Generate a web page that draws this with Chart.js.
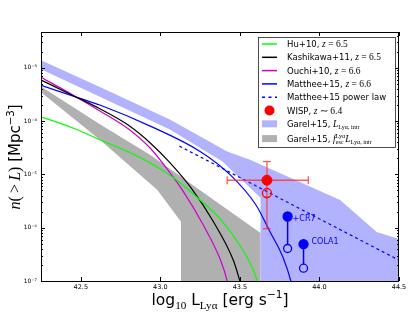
<!DOCTYPE html>
<html>
<head>
<meta charset="utf-8">
<script src="https://cdn.jsdelivr.net/npm/chart.js@4.4.0/dist/chart.umd.min.js"></script>
<style>
  html, body { margin: 0; padding: 0; background: #fff; }
</style>
</head>
<body>
<canvas id="lfChart" width="416" height="319"></canvas>
<script>
// axis ranges / ticks (x: log10 L, y: log10 n(>L))
const xRange = [42.25, 44.5];
const yRange = [-7, -2.33];
const xTicks = [42.5, 43.0, 43.5, 44.0, 44.5];
const yTickExps = [-7, -6, -5, -4, -3];

// cumulative LFs
const huX = [42.25, 42.45, 42.62, 42.80, 42.94, 43.10, 43.25, 43.38, 43.50, 43.57, 43.61, 43.63];
const huY = [-3.92, -4.13, -4.35, -4.58, -4.79, -5.10, -5.48, -5.85, -6.33, -6.70, -7.0, -7.2];
const kashX = [42.25, 42.45, 42.62, 42.80, 42.94, 43.06, 43.20, 43.33, 43.46, 43.50, 43.53];
const kashY = [-3.23, -3.52, -3.77, -4.08, -4.42, -4.78, -5.28, -5.87, -6.62, -7.0, -7.3];
const ouchiX = [42.25, 42.45, 42.62, 42.80, 42.94, 43.05, 43.14, 43.27, 43.38, 43.42, 43.44];
const ouchiY = [-3.18, -3.51, -3.81, -4.15, -4.52, -4.93, -5.30, -5.95, -6.62, -7.0, -7.3];
const mattX = [42.25, 42.51, 42.62, 42.94, 43.25, 43.44, 43.60, 43.69, 43.77, 43.82, 43.84];
const mattY = [-3.33, -3.59, -3.70, -4.10, -4.57, -5.01, -5.57, -6.08, -6.55, -7.0, -7.3];
const powX = [43.12, 44.5];
const powY = [-4.47, -6.61];

// Garel+15 bands
const garelUpX = [42.25, 42.62, 43.06, 43.42, 43.56, 44.13, 44.36, 44.5];
const garelUpY = [-2.86, -3.36, -3.97, -4.57, -4.72, -5.48, -6.08, -6.21];
const garelLoX = [42.25, 43.06, 43.39, 43.63, 43.63, 44.5];
const garelLoY = [-3.03, -4.16, -4.76, -5.44, -8, -8];
const escUpX = [42.25, 42.62, 42.94, 43.25, 43.63, 43.63];
const escUpY = [-3.35, -4.06, -4.64, -5.30, -6.10, -8];
const escLoX = [42.25, 42.62, 42.98, 43.13, 43.13, 43.63];
const escLoY = [-3.46, -4.35, -5.29, -5.89, -8, -8];

// WISP point with error bars
const wispX = 43.67, wispY = -5.11, wispOpenY = -5.35;
const wispXErr = [43.42, 43.93];
const wispYErr = [-4.76, -6.02];

// CR7 and COLA1 (filled -> open)
const srcNames = ['+CR7', 'COLA1'];
const srcX = [43.80, 43.90];
const srcY = [-5.79, -6.31];
const srcOpenY = [-6.39, -6.76];

const SANS = 'DejaVu Sans';
const SERIF = 'Liberation Serif';
const BAND_BLUE = 'rgba(0,0,255,0.3)';
const BAND_GRAY = '#b0b0b0';

const toPts = (xs, ys) => xs.map((x, i) => ({ x: x, y: Math.pow(10, ys[i]) }));

function curve(xs, ys, color, dash) {
  return {
    data: toPts(xs, ys), borderColor: color, borderWidth: 1.2,
    borderDash: dash || [], pointRadius: 0, fill: false,
    cubicInterpolationMode: 'monotone'
  };
}
function edge(xs, ys, fill, color) {
  return { data: toPts(xs, ys), borderWidth: 0, pointRadius: 0, fill: fill, backgroundColor: color, tension: 0 };
}
function capBar(pts, rot) {
  return {
    data: pts, borderColor: 'rgba(255,40,40,0.75)', borderWidth: 1.3,
    pointStyle: 'line', pointRotation: rot, pointRadius: 4,
    pointBorderColor: 'rgba(255,40,40,0.75)', pointBorderWidth: 1.3
  };
}

const datasets = [
  // WISP
  { data: [{ x: wispX, y: Math.pow(10, wispY) }], showLine: false, pointRadius: 5,
    pointBackgroundColor: '#ff0000', pointBorderColor: '#ff0000', pointBorderWidth: 1 },
  { data: [{ x: wispX, y: Math.pow(10, wispOpenY) }], showLine: false, pointRadius: 4.5,
    pointBackgroundColor: 'rgba(0,0,0,0)', pointBorderColor: '#ff0000', pointBorderWidth: 1.3 },
  capBar([{ x: wispXErr[0], y: Math.pow(10, wispY) }, { x: wispXErr[1], y: Math.pow(10, wispY) }], 90),
  capBar([{ x: wispX, y: Math.pow(10, wispYErr[0]) }, { x: wispX, y: Math.pow(10, wispYErr[1]) }], 0)
];
srcX.forEach((x, i) => {
  datasets.push({
    data: [{ x: x, y: Math.pow(10, srcY[i]) }, { x: x, y: Math.pow(10, srcOpenY[i]) }],
    borderColor: '#0000ff', borderWidth: 1.5, pointRadius: [4.5, 4],
    pointBackgroundColor: ['#0000ff', '#b3b3ff'], pointBorderColor: '#0000ff', pointBorderWidth: 1.3
  });
});
datasets.push(
  curve(huX, huY, '#00ff00'),
  curve(kashX, kashY, '#000000'),
  curve(ouchiX, ouchiY, '#cc00cc'),
  curve(mattX, mattY, '#0000ff'),
  curve(powX, powY, '#0000ff', [3, 3]),
  edge(garelUpX, garelUpY, false, BAND_BLUE),
  edge(garelLoX, garelLoY, '-1', BAND_BLUE),
  edge(escUpX, escUpY, false, BAND_GRAY),
  edge(escLoX, escLoY, '-1', BAND_GRAY)
);

// legend entries: handle + text runs (sans / math)
const legendItems = [
  { h: 'line', c: '#00ff00', runs: [['Hu+10, '], ['z', 'mi'], [' = 6.5', 'm']] },
  { h: 'line', c: '#000000', runs: [['Kashikawa+11, '], ['z', 'mi'], [' = 6.5', 'm']] },
  { h: 'line', c: '#cc00cc', runs: [['Ouchi+10, '], ['z', 'mi'], [' = 6.6', 'm']] },
  { h: 'line', c: '#0000ff', runs: [['Matthee+15, '], ['z', 'mi'], [' = 6.6', 'm']] },
  { h: 'dash', c: '#0000ff', runs: [['Matthee+15 power law']] },
  { h: 'dot', c: '#ff0000', runs: [['WISP, '], ['z', 'mi'], [' \u223C 6.4', 'm']] },
  { h: 'patch', c: BAND_BLUE, runs: [['Garel+15, '], ['L', 'mi'], ['Ly\u03B1, intr', 'sub']] },
  { h: 'patch', c: BAND_GRAY, runs: [['Garel+15, '], ['f', 'mi'], ['esc', 'subsup', 'Ly\u03B1'], ['L', 'mi'], ['Ly\u03B1, intr', 'sub']] }
];

const supDigits = { '-': '\u207B', '0': '\u2070', '1': '\u00B9', '2': '\u00B2', '3': '\u00B3', '4': '\u2074', '5': '\u2075', '6': '\u2076', '7': '\u2077', '8': '\u2078', '9': '\u2079' };
const sup = n => String(n).split('').map(ch => supDigits[ch]).join('');

function runFont(kind, size) {
  if (kind === 'mi') return 'italic ' + (size + 1) + 'px "' + SERIF + '"';
  if (kind === 'm') return (size + 1) + 'px "' + SERIF + '"';
  if (kind === 'sub' || kind === 'subsup' || kind === 'sup') return (size * 0.72) + 'px "' + SERIF + '"';
  if (kind === 'ssub' || kind === 'ssup') return (size * 0.68) + 'px "' + SANS + '"';
  return size + 'px "' + SANS + '"';
}

function drawRuns(ctx, runs, x, y, size, center) {
  let total = 0;
  const widths = runs.map(r => {
    ctx.font = runFont(r[1], size);
    let w = ctx.measureText(r[0]).width;
    if (r[2]) w = Math.max(w, ctx.measureText(r[2]).width);
    total += w;
    return w;
  });
  let cx = center ? x - total / 2 : x;
  runs.forEach((r, i) => {
    ctx.font = runFont(r[1], size);
    let dy = 0;
    if (r[1] === 'sub' || r[1] === 'subsup' || r[1] === 'ssub') dy = size * 0.25;
    if (r[1] === 'sup' || r[1] === 'ssup') dy = -size * 0.42;
    ctx.fillText(r[0], cx, y + dy);
    if (r[2]) ctx.fillText(r[2], cx, y - size * 0.45);
    cx += widths[i];
  });
}

const framePlugin = {
  id: 'frame',
  afterDatasetsDraw(chart) {
    const { ctx, chartArea: a, scales } = chart;
    const xs = scales.x, ys = scales.y;
    ctx.save();
    ctx.strokeStyle = '#000';
    ctx.lineWidth = 1;
    ctx.beginPath();
    xTicks.forEach(v => {
      const px = Math.round(xs.getPixelForValue(v)) + 0.5;
      ctx.moveTo(px, a.bottom); ctx.lineTo(px, a.bottom - 4);
      ctx.moveTo(px, a.top); ctx.lineTo(px, a.top + 4);
    });
    for (let e = yRange[0]; e < 0; e++) {
      for (let m = 1; m < 10; m++) {
        const v = m * Math.pow(10, e);
        if (v > ys.max) break;
        const py = Math.round(ys.getPixelForValue(v)) + 0.5;
        const len = m === 1 ? 4 : 2;
        ctx.moveTo(a.left, py); ctx.lineTo(a.left + len, py);
        ctx.moveTo(a.right, py); ctx.lineTo(a.right - len, py);
      }
    }
    ctx.stroke();
    ctx.strokeRect(Math.round(a.left) + 0.5, Math.round(a.top) + 0.5, Math.round(a.width) - 1, Math.round(a.height));
    // source labels
    ctx.fillStyle = '#0000ff';
    ctx.font = '8px "' + SANS + '"';
    ctx.textBaseline = 'middle';
    srcNames.forEach((name, i) => {
      const px = xs.getPixelForValue(srcX[i]);
      const py = ys.getPixelForValue(Math.pow(10, srcY[i]));
      ctx.fillText(name, px + (i === 0 ? 5 : 8), py + (i === 0 ? 2.5 : -2.5));
    });
    ctx.restore();
  },
  afterDraw(chart) {
    const { ctx } = chart;
    ctx.save();
    // legend
    const bx = 258, by = 37, bw = 137, bh = 110;
    ctx.fillStyle = '#fff';
    ctx.fillRect(bx, by, bw, bh);
    ctx.strokeStyle = '#222';
    ctx.lineWidth = 0.8;
    ctx.strokeRect(bx + 0.5, by + 0.5, bw, bh);
    ctx.textBaseline = 'alphabetic';
    legendItems.forEach((it, i) => {
      const cy = 44 + i * 13.3 + (i === 7 ? 1.5 : 0);
      const hx0 = 262, hx1 = 277;
      if (it.h === 'line' || it.h === 'dash') {
        ctx.strokeStyle = it.c;
        ctx.lineWidth = 1.5;
        ctx.setLineDash(it.h === 'dash' ? [3, 3.5] : []);
        ctx.beginPath(); ctx.moveTo(hx0, cy); ctx.lineTo(hx1, cy); ctx.stroke();
        ctx.setLineDash([]);
      } else if (it.h === 'dot') {
        ctx.fillStyle = it.c;
        ctx.beginPath(); ctx.arc((hx0 + hx1) / 2, cy, 5, 0, Math.PI * 2); ctx.fill();
      } else {
        ctx.fillStyle = it.c;
        ctx.fillRect(hx0, cy - 3.5, hx1 - hx0, 7);
      }
      ctx.fillStyle = '#000';
      drawRuns(ctx, it.runs, 287, cy + 3, 8.5, false);
    });
    // axis titles
    ctx.fillStyle = '#000';
    drawRuns(ctx, [['log'], ['10', 'sub'], [' L'], ['Ly\u03B1', 'sub'], [' [erg s'], ['\u22121', 'ssup'], [']']], 220, 305, 15.5, true);
    ctx.translate(20, 157);
    ctx.rotate(-Math.PI / 2);
    drawRuns(ctx, [['n', 'mi'], ['(\u2009>\u2009', 'm'], ['L', 'mi'], [')', 'm'], [' [Mpc'], ['\u22123', 'ssup'], [']']], 0, 0, 15, true);
    ctx.restore();
  }
};

new Chart(document.getElementById('lfChart').getContext('2d'), {
  type: 'line',
  data: { datasets: datasets },
  options: {
    responsive: false,
    animation: false,
    devicePixelRatio: 1,
    layout: { padding: { top: 32, right: 17, left: 0, bottom: 0 } },
    plugins: { legend: { display: false }, tooltip: { enabled: false } },
    scales: {
      x: {
        type: 'linear', min: xRange[0], max: xRange[1],
        grid: { display: false, drawTicks: false }, border: { display: false },
        afterBuildTicks: s => { s.ticks = xTicks.map(v => ({ value: v })); },
        afterFit: s => { s.height = 38; },
        ticks: { color: '#000', padding: 2, maxRotation: 0, autoSkip: false,
                 font: { family: SANS, size: 6.5 }, callback: v => Number(v).toFixed(1) }
      },
      y: {
        type: 'logarithmic', min: Math.pow(10, yRange[0]), max: Math.pow(10, yRange[1]),
        grid: { display: false, drawTicks: false }, border: { display: false },
        afterBuildTicks: s => { s.ticks = yTickExps.map(e => ({ value: Math.pow(10, e) })); },
        afterFit: s => { s.width = 41; },
        ticks: { color: '#000', padding: 4, autoSkip: false,
                 font: { family: SANS, size: 6 }, callback: v => '10' + sup(Math.round(Math.log10(v))) }
      }
    }
  },
  plugins: [framePlugin]
});
</script>
</body>
</html>
